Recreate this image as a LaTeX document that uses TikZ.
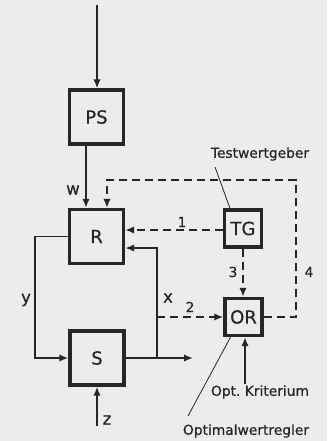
\documentclass[tikz,border=0pt]{standalone}
\usepackage{fontspec}
\setmainfont{DejaVu Sans}[FakeBold=0.6]
\usetikzlibrary{arrows.meta,calc}
\definecolor{ink}{HTML}{262626}
\definecolor{paper}{HTML}{ECECEA}

\begin{document}
\begin{tikzpicture}[x=1pt,y=-1pt,
  block/.style={draw=ink,line width=3.4pt,fill=paper,minimum width=54pt,minimum height=54pt,inner sep=0pt,text=ink,font=\fontsize{18}{20}\selectfont},
  small/.style={block,minimum width=37pt,minimum height=37pt},
  sig/.style={draw=ink,line width=1.8pt,-{Latex[length=9pt,width=7.5pt]}},
  test/.style={sig,dash pattern=on 8pt off 5pt},
  leader/.style={draw=ink,line width=0.8pt},
  lbl/.style={text=ink,inner sep=0pt,font=\fontsize{13.8}{15}\selectfont},
  var/.style={lbl,font=\fontsize{16.5}{18}\selectfont}]
\fill[paper] (0,0) rectangle (327,441);
\useasboundingbox (0,0) rectangle (327,441);
% blocks
\node[block] (PS) at (96.5,117) {PS};
\node[block] (R) at (96.5,236.5) {R};
\node[block] (S) at (97,358) {S};
\node[small] (TG) at (243,228.5) {TG};
\node[small] (OR) at (243.5,317) {OR};
% free ends and branch points
\coordinate (in) at (97,5);
\coordinate (out) at (193,358);
\coordinate (xb) at (157,358);
\coordinate (xm) at (157,317);
\coordinate (loop) at (296,180);
\coordinate (z0) at (97,426);
\coordinate (k0) at (245,384);
% main loop
\draw[sig] (in) -- (in |- PS.north);
\draw[sig] ([xshift=-10.5pt]PS.south) -- ([xshift=-10.5pt]R.north);
\draw[sig] (R.west) -- ++(-33,0) |- (S.west);
\draw[sig] (S.east) -- (out);
\draw[sig] (xb) |- ([yshift=-11.5pt]R.east);
\draw[sig] (z0) -- (S.south);
% test and optimum paths
\draw[test] ([yshift=-1.5pt]TG.west) -- ([yshift=-1.5pt]TG.west -| R.east);
\draw[test] (xm) -- (OR.west);
\draw[test] (TG.south) -- (TG.south |- OR.north);
\draw[test] (OR.east) -| (loop) -| ([xshift=10.5pt]R.north);
\draw[sig] (k0) -- (k0 |- OR.south);
% labels
\node[var] (w) at (73,190) {w};
\node[var] (y) at (26,300) {y};
\node[var] (x) at (168,298) {x};
\node[var] (z) at (107,420) {z};
\node[lbl] (n1) at (182,222) {1};
\node[lbl] (n2) at (190,307) {2};
\node[lbl] (n3) at (233,272) {3};
\node[lbl] (n4) at (309,272) {4};
\node[lbl] (tw) at (260,154) {Testwertgeber};
\node[lbl] (ok) at (260,392) {Opt.\ Kriterium};
\node[lbl] (ow) at (246,431) {Optimalwertregler};
\draw[leader] (215,167) -- ([xshift=-13pt]TG.north);
\draw[leader] (188,416) -- ([xshift=-13pt]OR.south);
\end{tikzpicture}
\end{document}
